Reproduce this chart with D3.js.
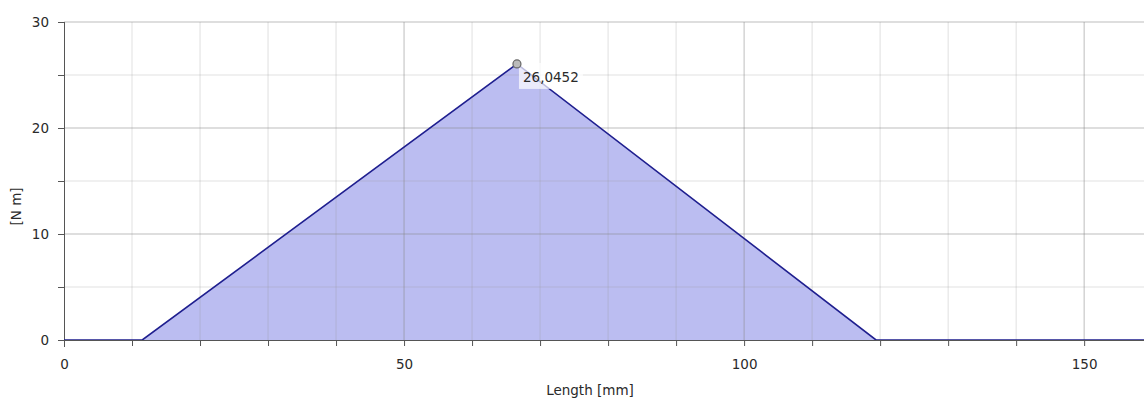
<!DOCTYPE html>
<html lang="en">
<head>
    <meta charset="UTF-8">
    <title>Moment along length</title>
    <script src="https://d3js.org/d3.v7.min.js"></script>
    <style>
        body { margin: 0; background: white; font-family: "DejaVu Sans", Verdana, sans-serif; }
        svg text { fill: #2a2a2a; }
    </style>
</head>
<body>
    <div id="chart"></div>
    <script>
        // Data
        const lengths = [0, 11.5, 66.6, 119.4, 160];
        const moments = [0, 0, 26.0452, 0, 0];
        const peakIndex = 2;
        const peakLabel = "26,0452";
        const xMajorTicks = [0, 50, 100, 150];
        const yMajorTicks = [0, 10, 20, 30];

        const width = 1144, height = 400;
        const margin = { top: 22, right: 0, bottom: 60, left: 64 };
        const fontSize = 13.5;

        const svg = d3.select("#chart")
            .append("svg")
            .attr("width", width)
            .attr("height", height);

        const x = d3.scaleLinear()
            .domain([0, 158.8])
            .range([margin.left, width - margin.right]);
        const y = d3.scaleLinear()
            .domain([0, 30])
            .range([height - margin.bottom, margin.top]);

        const data = lengths.map((l, i) => ({ x: l, y: moments[i] }));

        svg.append("defs").append("clipPath").attr("id", "clip")
            .append("rect")
            .attr("x", x.range()[0]).attr("y", y.range()[1])
            .attr("width", x.range()[1] - x.range()[0])
            .attr("height", y.range()[0] - y.range()[1]);

        // Filled area
        svg.append("path")
            .datum(data)
            .attr("clip-path", "url(#clip)")
            .attr("fill", "#b4b6ef")
            .attr("fill-opacity", 0.9)
            .attr("d", d3.area().x(d => x(d.x)).y0(y(0)).y1(d => y(d.y)));

        // Grid (drawn over the fill so it shows through)
        const xMinor = d3.range(10, 160, 10).filter(v => v % 50 !== 0);
        const yMinor = d3.range(5, 31, 5).filter(v => v % 10 !== 0);

        svg.append("g").selectAll("line")
            .data(xMinor).enter().append("line")
            .attr("x1", d => x(d)).attr("x2", d => x(d))
            .attr("y1", y(0)).attr("y2", y(30))
            .attr("stroke", "#999").attr("stroke-opacity", 0.3);
        svg.append("g").selectAll("line")
            .data(yMinor).enter().append("line")
            .attr("x1", x(0)).attr("x2", width)
            .attr("y1", d => y(d)).attr("y2", d => y(d))
            .attr("stroke", "#999").attr("stroke-opacity", 0.3);
        svg.append("g").selectAll("line")
            .data(xMajorTicks.filter(d => d > 0)).enter().append("line")
            .attr("x1", d => x(d)).attr("x2", d => x(d))
            .attr("y1", y(0)).attr("y2", y(30))
            .attr("stroke", "#888").attr("stroke-opacity", 0.55);
        svg.append("g").selectAll("line")
            .data(yMajorTicks.filter(d => d > 0)).enter().append("line")
            .attr("x1", x(0)).attr("x2", width)
            .attr("y1", d => y(d)).attr("y2", d => y(d))
            .attr("stroke", "#888").attr("stroke-opacity", 0.55);

        // Axes
        const xAxis = d3.axisBottom(x)
            .tickValues(d3.range(0, 160, 10))
            .tickSize(6)
            .tickFormat(d => xMajorTicks.includes(d) ? d : "");
        const gx = svg.append("g")
            .attr("transform", `translate(0,${y(0)})`)
            .call(xAxis);
        gx.select(".domain").attr("stroke", "#555").attr("d", `M${x(0)},0.5H${width}`);
        gx.selectAll(".tick line").attr("stroke", "#555");
        gx.selectAll(".tick text")
            .attr("font-family", "DejaVu Sans, Verdana, sans-serif")
            .attr("font-size", fontSize).attr("fill", "#2a2a2a").attr("dy", "1.45em");

        const yAxis = d3.axisLeft(y)
            .tickValues(d3.range(0, 31, 5))
            .tickSize(6)
            .tickPadding(9)
            .tickFormat(d => yMajorTicks.includes(d) ? d : "");
        const gy = svg.append("g")
            .attr("transform", `translate(${x(0)},0)`)
            .call(yAxis);
        gy.select(".domain").attr("stroke", "#555").attr("d", `M0.5,${y(30)}V${y(0) + 7}`);
        gy.selectAll(".tick line").attr("stroke", "#555");
        gy.selectAll(".tick text")
            .attr("font-family", "DejaVu Sans, Verdana, sans-serif")
            .attr("font-size", fontSize).attr("fill", "#2a2a2a");

        // Series line
        svg.append("path")
            .datum(data)
            .attr("clip-path", "url(#clip)")
            .attr("fill", "none")
            .attr("stroke", "#1f1f8f")
            .attr("stroke-width", 1.6)
            .attr("d", d3.line().x(d => x(d.x)).y(d => y(d.y)));

        // Peak marker and label
        const peak = data[peakIndex];
        const lbl = svg.append("g")
            .attr("transform", `translate(${x(peak.x) + 2},${y(peak.y) - 1})`);
        lbl.append("rect")
            .attr("width", 64).attr("height", 26)
            .attr("fill", "white").attr("fill-opacity", 0.7);
        lbl.append("text")
            .attr("x", 4).attr("y", 19)
            .attr("font-size", fontSize)
            .text(peakLabel);
        svg.append("circle")
            .attr("cx", x(peak.x)).attr("cy", y(peak.y))
            .attr("r", 4)
            .attr("fill", "#bbb").attr("stroke", "#666").attr("stroke-width", 1.2);

        // Axis titles
        svg.append("text")
            .attr("x", 590)
            .attr("y", 395)
            .attr("text-anchor", "middle")
            .attr("font-size", fontSize)
            .text("Length [mm]");
        svg.append("text")
            .attr("transform", `translate(21,${y(12.6)}) rotate(-90)`)
            .attr("text-anchor", "middle")
            .attr("font-size", fontSize)
            .text("[N m]");
    </script>
</body>
</html>
